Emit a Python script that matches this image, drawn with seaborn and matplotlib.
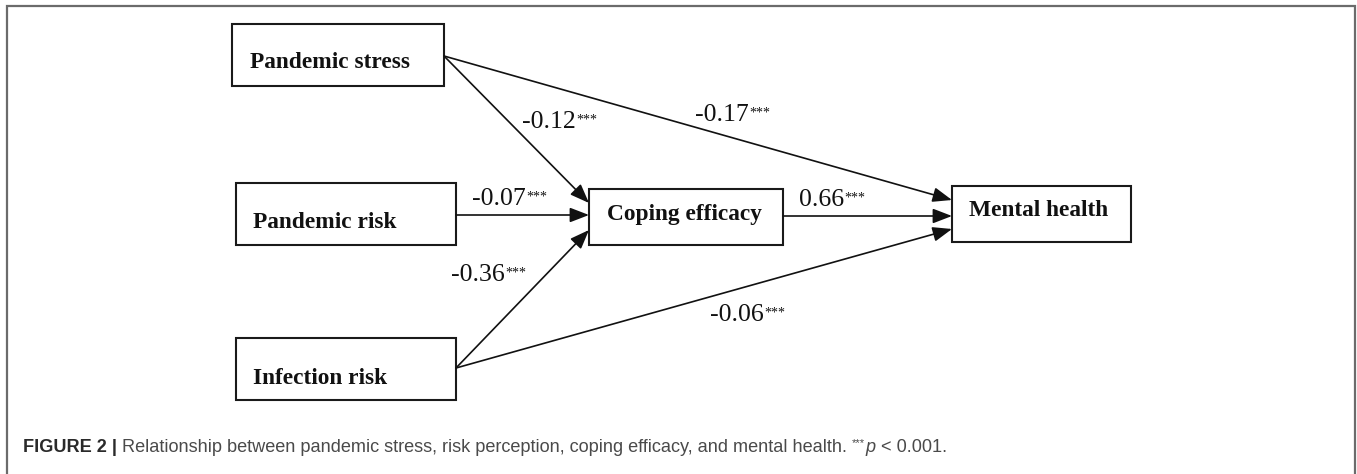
import matplotlib
matplotlib.use("Agg")
import matplotlib.pyplot as plt
import seaborn as sns
from matplotlib.patches import Rectangle

# ---------------- data ----------------
nodes = ["Pandemic stress", "Pandemic risk", "Infection risk", "Coping efficacy", "Mental health"]
path_from = ["Pandemic stress", "Pandemic stress", "Pandemic risk", "Infection risk", "Infection risk", "Coping efficacy"]
path_to = ["Coping efficacy", "Mental health", "Coping efficacy", "Coping efficacy", "Mental health", "Mental health"]
path_coef = [-0.12, -0.17, -0.07, -0.36, -0.06, 0.66]
path_sig = ["***", "***", "***", "***", "***", "***"]
caption_bold = "FIGURE 2 |"
caption_text = " Relationship between pandemic stress, risk perception, coping efficacy, and mental health. "
caption_sig = "***"
caption_p = "p"
caption_tail = " < 0.001."

# ---------------- layout (pixels) ----------------
W, H = 1357, 474
box_rect = {  # x0, y0, x1, y1
    "Pandemic stress": (232, 24, 444, 86),
    "Pandemic risk": (236, 183, 456, 245),
    "Infection risk": (236, 338, 456, 400),
    "Coping efficacy": (589, 189, 783, 245),
    "Mental health": (952, 186, 1131, 242),
}
box_text_pos = {  # left x, baseline y
    "Pandemic stress": (250, 68),
    "Pandemic risk": (253, 228),
    "Infection risk": (253, 384),
    "Coping efficacy": (607, 220),
    "Mental health": (969, 216),
}
edge_y = [(56, 203), (56, 200), (215, 215), (368, 230), (368, 229), (216, 216)]
label_pos = [(522, 128), (695, 121), (472, 205), (451, 281), (710, 321), (799, 206)]

sns.set_theme(style="white")
plt.rcParams["font.family"] = ["Liberation Serif", "DejaVu Serif"]

fig = plt.figure(figsize=(W / 100, H / 100), dpi=100)
ax = fig.add_axes([0, 0, 1, 1])
ax.set_xlim(0, W)
ax.set_ylim(H, 0)
ax.axis("off")

# outer frame (left, top, right)
ax.plot([7, 7, 1355, 1355], [H + 5, 6, 6, H + 5], color="#6b6b6b", lw=1.6,
        solid_joinstyle="miter", clip_on=False)

# boxes
for n in nodes:
    x0, y0, x1, y1 = box_rect[n]
    ax.add_patch(Rectangle((x0, y0), x1 - x0, y1 - y0, fill=False,
                           edgecolor="#1a1a1a", lw=1.5))
    tx, ty = box_text_pos[n]
    ax.text(tx, ty, n, ha="left", va="baseline", fontsize=16.8,
            fontweight="bold", color="#111111", family="Liberation Serif")

# arrows and labels
for i, (a, b) in enumerate(zip(path_from, path_to)):
    xs = box_rect[a][2]
    xe = box_rect[b][0]
    ys, ye = edge_y[i]
    ax.annotate("", xy=(xe, ye), xytext=(xs, ys),
                arrowprops=dict(arrowstyle="-|>,head_length=0.65,head_width=0.25",
                                mutation_scale=18, lw=1.2, color="#111111",
                                shrinkA=0, shrinkB=0))
    lx, ly = label_pos[i]
    t = ax.text(lx, ly, f"{path_coef[i]:.2f}", ha="left", va="baseline",
                fontsize=18.5, color="#111111", family="Liberation Serif")
    ax.annotate(path_sig[i], xy=(1, 1), xycoords=t, xytext=(0.5, -1.5),
                textcoords="offset points", ha="left", va="top",
                fontsize=10, color="#111111", family="Liberation Serif")


def draw_caption(size):
    arts = []
    fam = ["Liberation Sans", "DejaVu Sans"]
    raise_pt = size * 0.45
    t0 = ax.text(23, 452, caption_bold, ha="left", va="baseline", fontsize=size,
                 fontweight="bold", color="#2a2a2a", family=fam)
    arts.append(t0)
    t1 = ax.annotate(caption_text, xy=(1, 0), xycoords=t0, ha="left", va="bottom",
                     fontsize=size, color="#4a4a4a", family=fam)
    arts.append(t1)
    t2 = ax.annotate(caption_sig, xy=(1, 0), xycoords=t1, xytext=(0, raise_pt),
                     textcoords="offset points", ha="left", va="bottom",
                     fontsize=size * 0.62, color="#4a4a4a", family=fam)
    arts.append(t2)
    t3 = ax.annotate(caption_p, xy=(1, 0), xycoords=t2, xytext=(0.5, -raise_pt),
                     textcoords="offset points", ha="left", va="bottom",
                     fontsize=size, style="italic", color="#4a4a4a", family=fam)
    arts.append(t3)
    t4 = ax.annotate(caption_tail, xy=(1, 0), xycoords=t3, ha="left", va="bottom",
                     fontsize=size, color="#4a4a4a", family=fam)
    arts.append(t4)
    return arts


size = 11.5
arts = draw_caption(size)
fig.canvas.draw()
r = fig.canvas.get_renderer()
right = arts[-1].get_window_extent(r).x1
scale = (953 - 23) / (right - 23)
for a in arts:
    a.remove()
arts = draw_caption(size * scale)

fig.savefig("out.png", dpi=100, facecolor="white")
